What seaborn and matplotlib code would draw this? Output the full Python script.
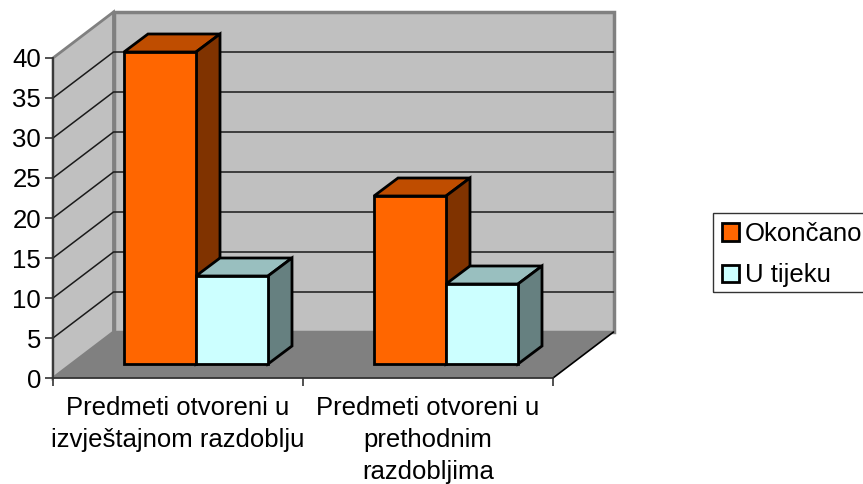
import matplotlib
matplotlib.use("Agg")
import matplotlib.pyplot as plt
from matplotlib.patches import Polygon, Rectangle
import pandas as pd
import seaborn as sb

categories = ["Predmeti otvoreni u\nizvještajnom razdoblju",
              "Predmeti otvoreni u\nprethodnim\nrazdobljima"]
finished = [39, 21]
ongoing = [11, 10]
series_names = ["Okončano", "U tijeku"]
y_ticks = [0, 5, 10, 15, 20, 25, 30, 35, 40]

front_colors = ["#FF6600", "#CCFFFF"]
top_colors = ["#BF4D00", "#99BFBF"]
side_colors = ["#803300", "#668080"]

sb.set_style("white")
plt.rcParams["font.family"] = ["Liberation Sans", "DejaVu Sans"]
plt.rcParams["font.size"] = 18.5
plt.rcParams["text.color"] = "black"
plt.rcParams["xtick.color"] = "black"
plt.rcParams["ytick.color"] = "black"

df = pd.DataFrame({
    "category": categories * 2,
    "series": [series_names[0]] * 2 + [series_names[1]] * 2,
    "value": finished + ongoing,
})

W, H = 863, 484
fig = plt.figure(figsize=(W / 100, H / 100), dpi=100)
ax = fig.add_axes([53 / W, (H - 378) / H, 500 / W, 320 / H])

sb.barplot(data=df, x="category", y="value", hue="series",
           palette=front_colors, width=0.576, gap=0,
           edgecolor="black", linewidth=2, saturation=1, ax=ax)
# seaborn also keeps empty legend rectangles in ax.patches, the real bars come first
n_cat = len(categories)
bars = list(ax.patches)[:2 * n_cat]
ax.set_xlim(-0.5, 1.5)
ax.set_ylim(0, 40)
ax.patch.set_visible(False)

# pixel -> data units, the 3d look is only offsets
xu = 2 / 500
yu = 40 / 320
wall_dx, wall_dy = 60.5 * xu, 46 * yu
bar_dx, bar_dy = 18 * xu, 14 * yu
depth_dx, depth_dy = 24 * xu, 18 * yu


def poly(pts, face, edge="none", lw=0, z=1):
    ax.add_patch(Polygon(pts, closed=True, facecolor=face, edgecolor=edge,
                         linewidth=lw, zorder=z, clip_on=False, joinstyle="miter"))


x0, x1 = ax.get_xlim()
y0, y1 = ax.get_ylim()

# walls and floor
poly([(x0, y0), (x0 + wall_dx, y0 + wall_dy), (x0 + wall_dx, y1 + wall_dy), (x0, y1)],
     "#C0C0C0", "#808080", 2, 0.5)
poly([(x0 + wall_dx, y0 + wall_dy), (x1 + wall_dx, y0 + wall_dy),
      (x1 + wall_dx, y1 + wall_dy), (x0 + wall_dx, y1 + wall_dy)],
     "#C0C0C0", "#808080", 2.5, 0.6)
poly([(x0, y0), (x1, y0), (x1 + wall_dx, y0 + wall_dy), (x0 + wall_dx, y0 + wall_dy)],
     "#808080", z=0.9)
ax.plot([x1, x1 + wall_dx], [y0, y0 + wall_dy], color="black", lw=1.2, clip_on=False, zorder=1)

# gridlines, back wall and side wall
for t in y_ticks[1:-1]:
    ax.plot([x0, x0 + wall_dx, x1 + wall_dx],
            [t, t + wall_dy, t + wall_dy],
            color="#1a1a1a", lw=1.1, clip_on=False, zorder=1)

# bars: move to the middle of the depth and add top and side faces
for i, bar in enumerate(bars):
    s = i // n_cat
    bar.set_x(bar.get_x() + bar_dx)
    bar.set_y(bar_dy)
    bar.set_clip_on(False)
    bar.set_joinstyle("miter")
    z = 3 + s
    bar.set_zorder(z + 0.2)
    bx, bw, bh = bar.get_x(), bar.get_width(), bar.get_height()
    by = bar.get_y()
    poly([(bx, by + bh), (bx + bw, by + bh), (bx + bw + depth_dx, by + bh + depth_dy),
          (bx + depth_dx, by + bh + depth_dy)], top_colors[s], "black", 2, z)
    poly([(bx + bw, by), (bx + bw + depth_dx, by + depth_dy),
          (bx + bw + depth_dx, by + bh + depth_dy), (bx + bw, by + bh)],
         side_colors[s], "black", 2, z)

# axes
sb.despine(ax=ax, top=True, right=True)
for name in ["left", "bottom"]:
    ax.spines[name].set_color("#333333")
    ax.spines[name].set_linewidth(1.3)
    ax.spines[name].set_zorder(2)
ax.set_xlabel("")
ax.set_ylabel("")
ax.set_yticks(y_ticks)
ax.tick_params(axis="y", left=True, length=6, width=1.2, color="#333333", pad=2.5, labelsize=18.5)
ax.set_xticks([0, 1], categories)
ax.tick_params(axis="x", bottom=False, pad=9.5, labelsize=18.5)
for lab in ax.get_xticklabels():
    lab.set_linespacing(1.42)
ax.set_xticks([x0, 0.5, x1], minor=True)
ax.tick_params(axis="x", which="minor", bottom=True, length=6, width=1.2, color="#333333")

# legend, runs off the right side like the original
# the frame is its own rectangle, the legend's own box comes out too tall
leg = ax.legend(loc="upper left", bbox_to_anchor=(713 / W, (H - 213) / H),
                bbox_transform=fig.transFigure, fontsize=18.5, frameon=False,
                borderaxespad=0, borderpad=0.35,
                labelspacing=0.68, handlelength=0.65, handleheight=0.65, handletextpad=0.25)
leg.set_zorder(10)
fig.add_artist(Rectangle((713 / W, (H - 292) / H), 160 / W, 79 / H, fill=False,
                         edgecolor="#333333", linewidth=1, transform=fig.transFigure))

fig.savefig("out.png", dpi=100)
